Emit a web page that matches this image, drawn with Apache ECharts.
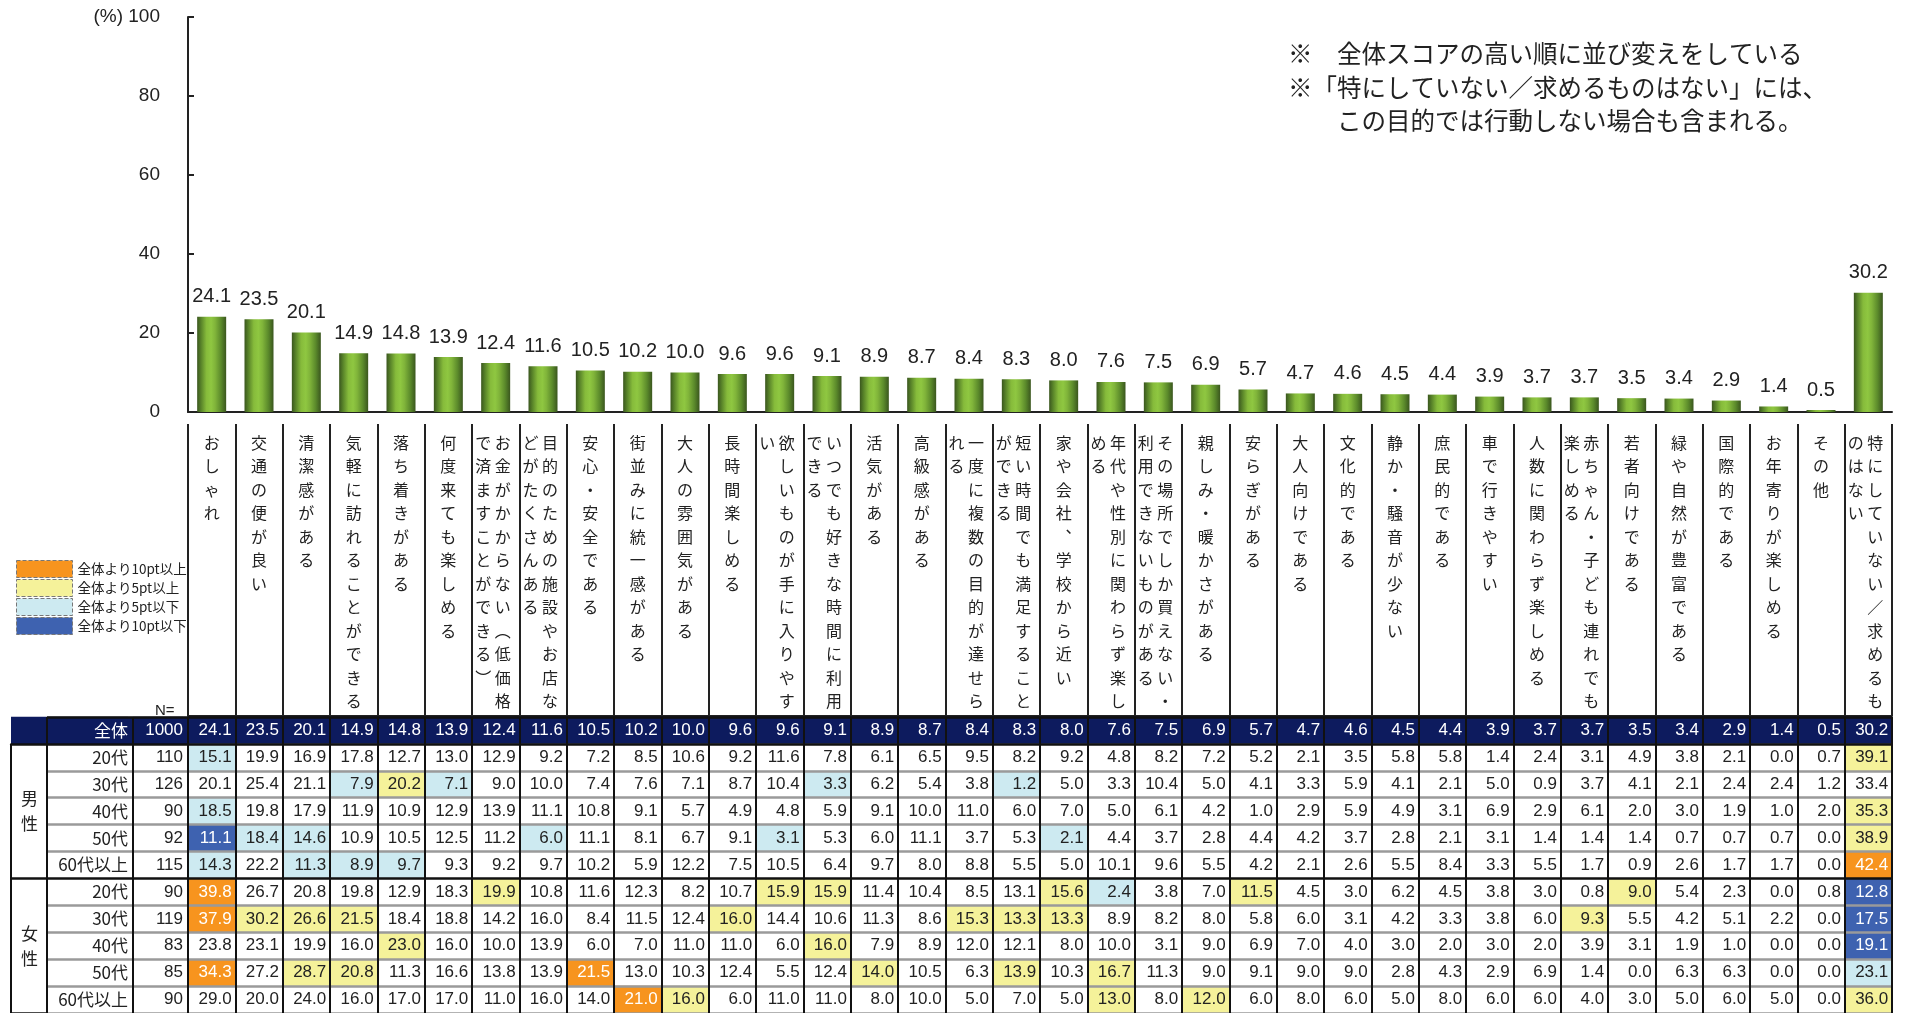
<!DOCTYPE html>
<html><head><meta charset="utf-8">
<script src="https://cdn.jsdelivr.net/npm/echarts@6/dist/echarts.min.js"></script>
<style>html,body{margin:0;padding:0;background:#fff}#c{width:1905px;height:1013px}</style>
</head><body><div id="c"></div>
<script>
// ---------- data ----------
const categories = [
  'おしゃれ','交通の便が良い','清潔感がある','気軽に訪れることができる','落ち着きがある','何度来ても楽しめる',
  'お金がかからない（低価格で済ますことができる）','目的のための施設やお店などがたくさんある','安心・安全である',
  '街並みに統一感がある','大人の雰囲気がある','長時間楽しめる','欲しいものが手に入りやすい','いつでも好きな時間に利用できる',
  '活気がある','高級感がある','一度に複数の目的が達せられる','短い時間でも満足することができる','家や会社、学校から近い',
  '年代や性別に関わらず楽しめる','その場所でしか買えない・利用できないものがある','親しみ・暖かさがある','安らぎがある',
  '大人向けである','文化的である','静か・騒音が少ない','庶民的である','車で行きやすい','人数に関わらず楽しめる',
  '赤ちゃん・子ども連れでも楽しめる','若者向けである','緑や自然が豊富である','国際的である','お年寄りが楽しめる','その他',
  '特にしていない／求めるものはない'
];
const overall = [24.1,23.5,20.1,14.9,14.8,13.9,12.4,11.6,10.5,10.2,10.0,9.6,9.6,9.1,8.9,8.7,8.4,8.3,8.0,7.6,7.5,6.9,5.7,4.7,4.6,4.5,4.4,3.9,3.7,3.7,3.5,3.4,2.9,1.4,0.5,30.2];
const male20 = [15.1,19.9,16.9,17.8,12.7,13.0,12.9,9.2,7.2,8.5,10.6,9.2,11.6,7.8,6.1,6.5,9.5,8.2,9.2,4.8,8.2,7.2,5.2,2.1,3.5,5.8,5.8,1.4,2.4,3.1,4.9,3.8,2.1,0.0,0.7,39.1];
const male30 = [20.1,25.4,21.1,7.9,20.2,7.1,9.0,10.0,7.4,7.6,7.1,8.7,10.4,3.3,6.2,5.4,3.8,1.2,5.0,3.3,10.4,5.0,4.1,3.3,5.9,4.1,2.1,5.0,0.9,3.7,4.1,2.1,2.4,2.4,1.2,33.4];
const male40 = [18.5,19.8,17.9,11.9,10.9,12.9,13.9,11.1,10.8,9.1,5.7,4.9,4.8,5.9,9.1,10.0,11.0,6.0,7.0,5.0,6.1,4.2,1.0,2.9,5.9,4.9,3.1,6.9,2.9,6.1,2.0,3.0,1.9,1.0,2.0,35.3];
const male50 = [11.1,18.4,14.6,10.9,10.5,12.5,11.2,6.0,11.1,8.1,6.7,9.1,3.1,5.3,6.0,11.1,3.7,5.3,2.1,4.4,3.7,2.8,4.4,4.2,3.7,2.8,2.1,3.1,1.4,1.4,1.4,0.7,0.7,0.7,0.0,38.9];
const male60 = [14.3,22.2,11.3,8.9,9.7,9.3,9.2,9.7,10.2,5.9,12.2,7.5,10.5,6.4,9.7,8.0,8.8,5.5,5.0,10.1,9.6,5.5,4.2,2.1,2.6,5.5,8.4,3.3,5.5,1.7,0.9,2.6,1.7,1.7,0.0,42.4];
const female20 = [39.8,26.7,20.8,19.8,12.9,18.3,19.9,10.8,11.6,12.3,8.2,10.7,15.9,15.9,11.4,10.4,8.5,13.1,15.6,2.4,3.8,7.0,11.5,4.5,3.0,6.2,4.5,3.8,3.0,0.8,9.0,5.4,2.3,0.0,0.8,12.8];
const female30 = [37.9,30.2,26.6,21.5,18.4,18.8,14.2,16.0,8.4,11.5,12.4,16.0,14.4,10.6,11.3,8.6,15.3,13.3,13.3,8.9,8.2,8.0,5.8,6.0,3.1,4.2,3.3,3.8,6.0,9.3,5.5,4.2,5.1,2.2,0.0,17.5];
const female40 = [23.8,23.1,19.9,16.0,23.0,16.0,10.0,13.9,6.0,7.0,11.0,11.0,6.0,16.0,7.9,8.9,12.0,12.1,8.0,10.0,3.1,9.0,6.9,7.0,4.0,3.0,2.0,3.0,2.0,3.9,3.1,1.9,1.0,0.0,0.0,19.1];
const female50 = [34.3,27.2,28.7,20.8,11.3,16.6,13.8,13.9,21.5,13.0,10.3,12.4,5.5,12.4,14.0,10.5,6.3,13.9,10.3,16.7,11.3,9.0,9.1,9.0,9.0,2.8,4.3,2.9,6.9,1.4,0.0,6.3,6.3,0.0,0.0,23.1];
const female60 = [29.0,20.0,24.0,16.0,17.0,17.0,11.0,16.0,14.0,21.0,16.0,6.0,11.0,11.0,8.0,10.0,5.0,7.0,5.0,13.0,8.0,12.0,6.0,8.0,6.0,5.0,8.0,6.0,6.0,4.0,3.0,5.0,6.0,5.0,0.0,36.0];
const rowKeys = ['全体','男性20代','男性30代','男性40代','男性50代','男性60代以上','女性20代','女性30代','女性40代','女性50代','女性60代以上'];
const rowLabels = ['全体','20代','30代','40代','50代','60代以上','20代','30代','40代','50代','60代以上'];
const rowN = [1000,110,126,90,92,115,90,119,83,85,90];
const groupLabels = ['男性','女性'];
const legendNames = ['全体より10pt以上','全体より5pt以上','全体より5pt以下','全体より10pt以下'];
const yTicks = {min:0, max:100, interval:20};

// ---------- style ----------
const NARROW = "'Liberation Sans Narrow','Arial Narrow','Liberation Sans',Arial,sans-serif";
const CJK = "'Noto Sans CJK JP','Noto Sans CJK SC',sans-serif";
const SANS = "'Liberation Sans',Arial,sans-serif";
const MIXN = "'Liberation Sans Narrow','Arial Narrow','Noto Sans CJK JP',sans-serif";
const NAVY = '#0d1b5e';
const classColors = ['#f7941e','#f5f29a','#cdeaf1','#3e62b0'];
const classText = ['#ffffff','#222222','#222222','#ffffff'];
const rowLineColors = ['#111','#111','#9a9a9a','#9a9a9a','#9a9a9a','#9a9a9a','#111','#9a9a9a','#9a9a9a','#9a9a9a','#9a9a9a','#9a9a9a'];

function cls(v, base){
  const d = Math.round((v - base) * 10) / 10;
  if (d >= 10) return 0;
  if (d >= 5) return 1;
  if (d <= -10) return 3;
  if (d <= -5) return 2;
  return -1;
}
const tableRows = [male20,male30,male40,male50,male60,female20,female30,female40,female50,female60];
const headerData = overall.map((v,j)=>[j,0,v]);
const plainData = [];
const classData = [[],[],[],[]];
tableRows.forEach((row,i)=>row.forEach((v,j)=>{
  const k = cls(v, overall[j]);
  (k < 0 ? plainData : classData[k]).push([j, i+1, v]);
}));

const VMAP = {'（':'︵','）':'︶','、':'︑'};
function vLabel(s){
  const chars = Array.from(s).map(c => VMAP[c] || c);
  const c1 = chars.slice(0,12), c2 = chars.slice(12);
  if (!c2.length) return c1.map(c => '{s|' + c + '}').join('\n');
  return c1.map((c,i) => '{l|' + (c2[i] || '　') + '}{r|' + c + '}{e| }').join('\n');
}
const vStyle = {fontSize:16, lineHeight:23.5, fontFamily:CJK, color:'#222'};

function hm(name, data, color, textColor){
  return {
    type:'heatmap', name, xAxisIndex:2, yAxisIndex:2, data,
    itemStyle:{color},
    label:{show:true, position:'insideRight', distance:4, color:textColor, fontSize:17, fontFamily:NARROW,
      formatter:p => p.value[2].toFixed(1)},
    emphasis:{disabled:true}
  };
}

const chart = echarts.init(document.getElementById('c'), null, {renderer:'canvas'});
chart.setOption({
  animation:false,
  backgroundColor:'#fff',
  title:[
    {left:1283, top:32, text:'※　全体スコアの高い順に並び変えをしている\n※「特にしていない／求めるものはない」には、\n　　この目的では行動しない場合も含まれる。',
     textStyle:{fontSize:24.5, fontWeight:'normal', lineHeight:33.5, color:'#222', fontFamily:CJK}},
    {left:150, top:698, text:'N=', textStyle:{fontSize:15, fontWeight:'normal', color:'#222', fontFamily:SANS}}
  ],
  legend:{
    data:legendNames, orient:'vertical', left:11, top:555, itemWidth:56, itemHeight:17, itemGap:1,
    selectedMode:false, icon:'rect',
    textStyle:{fontSize:13.5, color:'#222', fontFamily:CJK},
    itemStyle:{borderColor:'#777', borderWidth:1, borderType:'dashed'}
  },
  grid:[
    {left:188, width:1704, top:17, height:395},
    {left:188, width:1704, top:424, height:292},
    {left:188, width:1704, top:717, height:299},
    {left:47, width:141, top:717, height:299},
    {left:11, width:36, top:744.2, height:271.8}
  ],
  xAxis:[
    {gridIndex:0, type:'category', data:categories,
     axisLine:{lineStyle:{color:'#222', width:2}},
     axisTick:{inside:true, interval:0, length:6, lineStyle:{color:'#222', width:2}},
     axisLabel:{show:false}},
    {gridIndex:1, type:'category', data:categories, position:'top',
     axisLine:{lineStyle:{color:'#222', width:2}}, axisTick:{show:false},
     splitLine:{show:true, interval:0, lineStyle:{color:'#222', width:2}},
     axisLabel:{inside:true, interval:0, margin:7, verticalAlign:'top', formatter:vLabel,
       fontSize:16, lineHeight:23.5, fontFamily:CJK, color:'#222',
       rich:{s:Object.assign({width:16}, vStyle), l:Object.assign({width:23}, vStyle),
             r:Object.assign({width:16}, vStyle), e:Object.assign({width:9}, vStyle)}}},
    {gridIndex:2, type:'category', data:categories, z:3,
     axisLine:{show:false}, axisTick:{show:false}, axisLabel:{show:false, interval:0},
     splitLine:{show:true, interval:0, lineStyle:{color:'#111', width:2}}},
    {gridIndex:3, type:'value', min:0, max:141, interval:86, z:4,
     axisLine:{show:false}, axisTick:{show:false}, axisLabel:{show:false},
     splitLine:{show:true, lineStyle:{color:'#111', width:2}}},
    {gridIndex:4, type:'value', show:false}
  ],
  yAxis:[
    {gridIndex:0, type:'value', min:yTicks.min, max:yTicks.max, interval:yTicks.interval,
     axisLine:{show:true, lineStyle:{color:'#222', width:2}},
     axisTick:{show:true, inside:true, length:6, lineStyle:{color:'#222', width:2}},
     splitLine:{show:false},
     axisLabel:{fontSize:19, margin:28, color:'#222', fontFamily:SANS,
       formatter:v => v === yTicks.max ? '{p|(%)} ' + v : String(v),
       rich:{p:{fontSize:19, color:'#222', fontFamily:SANS}}}},
    {gridIndex:1, type:'value', show:false},
    {gridIndex:2, type:'category', inverse:true, data:rowKeys, z:3,
     axisLine:{show:false}, axisTick:{show:false},
     splitLine:{show:true, interval:0, lineStyle:{color:rowLineColors, width:2.5}},
     axisLabel:{margin:0, align:'right', interval:0, fontSize:17, fontFamily:MIXN, color:'#222',
       formatter:(v,i) => i === 0
         ? '{hg| }{hl|' + rowLabels[0] + '}{hs| }{hn|' + rowN[0] + '}{hs| }'
         : '{l|' + rowLabels[i] + '}{s| }{n|' + rowN[i] + '}{s| }',
       rich:{
         hg:{width:36, height:27.2, lineHeight:27.2, backgroundColor:NAVY},
         hl:{width:81, height:27.2, lineHeight:27.2, backgroundColor:NAVY, color:'#fff', align:'right', fontSize:17, fontFamily:MIXN},
         hs:{width:5, height:27.2, lineHeight:27.2, backgroundColor:NAVY},
         hn:{width:50, height:27.2, lineHeight:27.2, backgroundColor:NAVY, color:'#fff', align:'right', fontSize:17, fontFamily:NARROW},
         l:{width:81, align:'right', fontSize:17, fontFamily:MIXN, color:'#222'},
         s:{width:5},
         n:{width:50, align:'right', fontSize:17, fontFamily:NARROW, color:'#222'}
       }}},
    {gridIndex:3, type:'category', inverse:true, data:rowKeys, z:4,
     axisLine:{show:false}, axisTick:{show:false}, axisLabel:{show:false, interval:0},
     splitLine:{show:true, interval:0, lineStyle:{color:rowLineColors, width:2.5}}},
    {gridIndex:4, type:'category', inverse:true, data:groupLabels, z:4,
     axisLine:{show:true, lineStyle:{color:'#111', width:2}}, axisTick:{show:false},
     splitLine:{show:true, interval:0, lineStyle:{color:'#111', width:2.5}},
     axisLabel:{inside:true, margin:10, fontSize:17, lineHeight:25, fontFamily:CJK, color:'#222',
       formatter:v => Array.from(v).join('\n')}}
  ],
  series:[
    {type:'bar', name:'全体', xAxisIndex:0, yAxisIndex:0, data:overall, barWidth:29,
     itemStyle:{color:new echarts.graphic.LinearGradient(0,0,1,0,[
       {offset:0, color:'#3a561e'},{offset:0.12, color:'#557f28'},{offset:0.32, color:'#86bb3b'},
       {offset:0.48, color:'#8fc741'},{offset:0.62, color:'#80b43a'},{offset:0.82, color:'#5b8a2b'},{offset:1, color:'#3a561e'}])},
     label:{show:true, position:'top', distance:10, fontSize:20, fontFamily:NARROW, color:'#222',
       formatter:p => p.value.toFixed(1)},
     emphasis:{disabled:true}},
    hm('header', headerData, NAVY, '#ffffff'),
    hm('plain', plainData, '#ffffff', '#222222'),
    hm(legendNames[0], classData[0], classColors[0], classText[0]),
    hm(legendNames[1], classData[1], classColors[1], classText[1]),
    hm(legendNames[2], classData[2], classColors[2], classText[2]),
    hm(legendNames[3], classData[3], classColors[3], classText[3])
  ]
});
</script></body></html>
